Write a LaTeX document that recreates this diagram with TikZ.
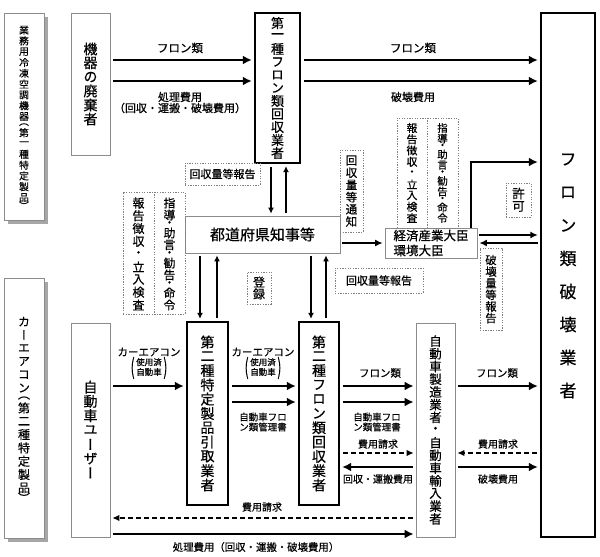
\documentclass[tikz,border=0pt]{standalone}
\usepackage{fontspec}
\usepackage{graphicx}
\setmainfont{Noto Sans CJK JP}[FakeBold=0.5]
\newfontfamily\vjp{Noto Sans CJK JP}[RawFeature=+vert,FakeBold=0.5]
\usetikzlibrary{arrows.meta,shadows}
\XeTeXuseglyphmetrics=1
\newdimen\vstep
\def\po{po}\def\pc{pc}\def\dt{dt}
\newcommand\vcell[1]{\hbox to 1em{\hss\vbox to \vstep{\vss\hbox{#1}\vss}\hss}}
\newcommand\vcellh[1]{\hbox to 1em{\hss\vbox to 0.5\vstep{\vss\hbox{#1}\vss}\hss}}
\def\vstackA#1{\ifx\relax#1\else
  \ifx\dt#1\vcellh{・}\else
  \ifx\po#1\vcellh{（}\else
  \ifx\pc#1\vcellh{）}\else
  \vcell{#1}\fi\fi\fi
  \expandafter\vstackA\fi}
\newcommand\vt[3]{\vbox{\fontsize{#1}{#1}\selectfont\vjp\vstep=#2pt\offinterlineskip\vstackA#3\relax}}
\newcommand\vc[1]{$\vcenter{\hbox{#1}}$}
\newcommand\bigpar[1]{\scalebox{1}[1.9]{\fontsize{11.5}{11.5}\selectfont #1}}
\newcommand\usedcar{\vc{\bigpar{(}}\,\vc{\fontsize{8.5}{8.8}\selectfont\begin{tabular}{@{}c@{}}使用済\\自動車\end{tabular}}\,\vc{\bigpar{)}}}
\tikzset{
 gbox/.style={draw=black!45, line width=0.8pt, fill=white, inner sep=0pt},
 tbox/.style={draw=black, line width=2.4pt, fill=white, inner sep=0pt},
 shbox/.style={gbox, drop shadow={shadow xshift=4pt, shadow yshift=-4pt, fill=black!35, opacity=1}},
 dbox/.style={draw=black!50, line width=0.6pt, dash pattern=on 1.3pt off 1.3pt, inner sep=0pt},
 dline/.style={draw=black!50, line width=0.6pt, dash pattern=on 1.3pt off 1.3pt},
 lab/.style={inner sep=0pt, font=\fontsize{11}{12}\selectfont},
 slab/.style={inner sep=0pt, font=\fontsize{10}{11}\selectfont},
 arr/.style={line width=1.9pt, -{Latex[length=9pt,width=9pt]}, shorten <=3pt, shorten >=2pt},
 marr/.style={line width=1.4pt, -{Latex[length=7.5pt,width=7pt]}, shorten <=2pt, shorten >=2pt},
 sarr/.style={line width=1.1pt, -{Latex[length=6pt,width=6pt]}, shorten <=3pt, shorten >=2pt},
 darr/.style={line width=1.1pt, dash pattern=on 4.5pt off 3.5pt, -{Latex[length=7pt,width=6.5pt]}, shorten <=3pt, shorten >=2pt},
}
\begin{document}
\begin{tikzpicture}[x=1pt,y=-1pt]
\useasboundingbox (0,0) rectangle (600,557);
% main boxes
\node[shbox, minimum width=40pt, minimum height=207pt] (L1) at (24,116.5) {\vt{9.8}{10.8}{業務用冷凍空調機器\po 第一種特定製品\pc}};
\node[shbox, minimum width=40pt, minimum height=260pt] (L2) at (24,408) {\vt{12}{13.3}{カーエアコン\po 第二種特定製品\pc}};
\node[gbox, minimum width=39pt, minimum height=142pt] (kiki) at (90.5,84) {\vt{14}{14}{機器の廃棄者}};
\node[tbox, minimum width=45pt, minimum height=150pt] (rec1) at (277.5,88) {\vt{13}{13}{第一種フロン類回収業者}};
\node[tbox, minimum width=54pt, minimum height=524pt] (hakai) at (568,275) {\vt{17}{33}{フロン類破壊業者}};
\node[gbox, minimum width=39pt, minimum height=214pt] (user) at (90.5,430) {\vt{14}{14.3}{自動車ユーザー}};
\node[tbox, minimum width=41pt, minimum height=183pt] (hiki) at (207.5,413.5) {\vt{14}{14.3}{第二種特定製品引取業者}};
\node[tbox, minimum width=40pt, minimum height=183pt] (rec2) at (319,413.5) {\vt{14}{14.3}{第二種フロン類回収業者}};
\node[gbox, minimum width=39pt, minimum height=214pt] (maker) at (435.5,430) {\vt{12.5}{12.7}{自動車製造業者・自動車輸入業者}};
\node[gbox, minimum width=155pt, minimum height=37pt, font=\fontsize{15}{16}\selectfont] (pref) at (262.5,234.5) {都道府県知事等};
\node[gbox, minimum width=92pt, minimum height=30pt, align=left, font=\fontsize{12.5}{15}\selectfont] (meti) at (431,243) {経済産業大臣\\環境大臣};
% dashed label boxes
\node[dbox, minimum width=75pt, minimum height=22pt, font=\fontsize{11}{12}\selectfont] (d1) at (222.5,174) {回収量等報告};
\node[dbox, minimum width=62pt, minimum height=122pt] (d2) at (154,253) {};
\draw[dline] (d2.north) -- (d2.south);
\node[inner sep=0pt] (d2a) at (138.5,254) {\vt{12}{12.75}{報告徴収・立入検査}};
\node[inner sep=0pt] (d2b) at (169.5,254) {\vt{11.8}{12}{指導\dt 助言\dt 勧告\dt 命令}};
\node[dbox, minimum width=24pt, minimum height=32pt] (d3) at (259,288) {\vt{12}{12}{登録}};
\node[dbox, minimum width=23pt, minimum height=82pt] (d4) at (351.5,191) {\vt{11.5}{12.2}{回収量等通知}};
\node[dbox, minimum width=88pt, minimum height=25pt, font=\fontsize{11}{12}\selectfont] (d5) at (379,280.5) {回収量等報告};
\node[dbox, minimum width=61pt, minimum height=110pt] (d6) at (427.5,173) {};
\draw[dline] (d6.north) -- (d6.south);
\node[inner sep=0pt] (d6a) at (412,173) {\vt{10.8}{11.25}{報告徴収・立入検査}};
\node[inner sep=0pt] (d6b) at (442.5,173) {\vt{10.4}{10.6}{指導\dt 助言\dt 勧告\dt 命令}};
\node[dbox, minimum width=25pt, minimum height=34pt] (d7) at (518.5,200) {\vt{12.5}{13}{許可}};
\node[dbox, minimum width=22pt, minimum height=82pt] (d8) at (491,289) {\vt{11.3}{11.6}{破壊量等報告}};
% coordinates
\coordinate (yA) at (0,60); \coordinate (yB) at (0,81);
\coordinate (v1) at (271,0); \coordinate (v2) at (286,0);
\coordinate (v3) at (200,0); \coordinate (v4) at (217,0);
\coordinate (v5) at (311,0); \coordinate (v6) at (326,0);
\coordinate (yM) at (0,243); \coordinate (yM1) at (0,235);
\coordinate (mx) at (471,0); \coordinate (ty) at (0,162);
\coordinate (r1) at (0,386); \coordinate (r2) at (0,402);
\coordinate (r3) at (0,453); \coordinate (r4) at (0,467);
\coordinate (r5) at (0,518); \coordinate (r6) at (0,534);
% top arrows
\draw[arr] (kiki.east |- yA) -- (rec1.west |- yA);
\draw[arr] (kiki.east |- yB) -- (rec1.west |- yB);
\draw[arr] (rec1.east |- yA) -- (hakai.west |- yA);
\draw[arr] (rec1.east |- yB) -- (hakai.west |- yB);
\node[lab, font=\fontsize{11.5}{12}\selectfont] (t1) at (180,48) {フロン類};
\node[lab] (t2) at (180,97) {処理費用};
\node[lab] (t3) at (180,108) {（回収・運搬・破壊費用）};
\node[lab, font=\fontsize{11.5}{12}\selectfont] (t4) at (413,48) {フロン類};
\node[lab] (t5) at (413,97) {破壊費用};
% vertical arrows
\draw[sarr] (rec1.south -| v1) -- (pref.north -| v1);
\draw[sarr] (pref.north -| v2) -- (rec1.south -| v2);
\draw[sarr] (pref.south -| v3) -- (hiki.north -| v3);
\draw[sarr] (hiki.north -| v4) -- (pref.south -| v4);
\draw[sarr] (pref.south -| v5) -- (rec2.north -| v5);
\draw[sarr] (rec2.north -| v6) -- (pref.south -| v6);
% ministers
\draw[marr] (pref.east |- yM) -- (meti.west |- yM);
\draw[arr, shorten <=0pt] (meti.north -| mx) |- (hakai.west |- ty);
\draw[marr] (meti.east |- yM1) -- (hakai.west |- yM1);
\draw[marr] (hakai.west |- yM) -- (meti.east |- yM);
% lower flows
\draw[arr] (user.east |- r1) -- (hiki.west |- r1);
\draw[arr] (hiki.east |- r1) -- (rec2.west |- r1);
\draw[arr] (hiki.east |- r2) -- (rec2.west |- r2);
\draw[arr] (rec2.east |- r1) -- (maker.west |- r1);
\draw[arr] (rec2.east |- r2) -- (maker.west |- r2);
\draw[arr] (maker.east |- r1) -- (hakai.west |- r1);
\draw[darr] (rec2.east |- r3) -- (maker.west |- r3);
\draw[arr] (maker.west |- r4) -- (rec2.east |- r4);
\draw[darr] (hakai.west |- r3) -- (maker.east |- r3);
\draw[arr] (maker.east |- r4) -- (hakai.west |- r4);
\draw[darr] (maker.west |- r5) -- (user.east |- r5);
\draw[arr] (user.east |- r6) -- (maker.west |- r6);
% lower labels
\node[lab, font=\fontsize{10.5}{11}\selectfont] (b1) at (149,352) {カーエアコン};
\node[inner sep=0pt] (b2) at (149,368) {\usedcar};
\node[lab, font=\fontsize{10.5}{11}\selectfont] (b3) at (263,352) {カーエアコン};
\node[inner sep=0pt] (b4) at (263,368) {\usedcar};
\node[inner sep=0pt, align=center, font=\fontsize{9.5}{10}\selectfont] (b5) at (263,422) {自動車フロ\\ン類管理書};
\node[inner sep=0pt, align=center, font=\fontsize{9.5}{10}\selectfont] (b6) at (377,422) {自動車フロ\\ン類管理書};
\node[lab, font=\fontsize{10.5}{11}\selectfont] (b7) at (380,373) {フロン類};
\node[lab, font=\fontsize{10.5}{11}\selectfont] (b8) at (497,373) {フロン類};
\node[slab] (b9) at (378,444) {費用請求};
\node[slab] (b10) at (498,444) {費用請求};
\node[slab] (b11) at (378,479) {回収・運搬費用};
\node[slab] (b12) at (498,479) {破壊費用};
\node[slab] (b13) at (262,507) {費用請求};
\node[slab, font=\fontsize{10.4}{11}\selectfont] (b14) at (256,547) {処理費用（回収・運搬・破壊費用）};
\end{tikzpicture}
\end{document}
